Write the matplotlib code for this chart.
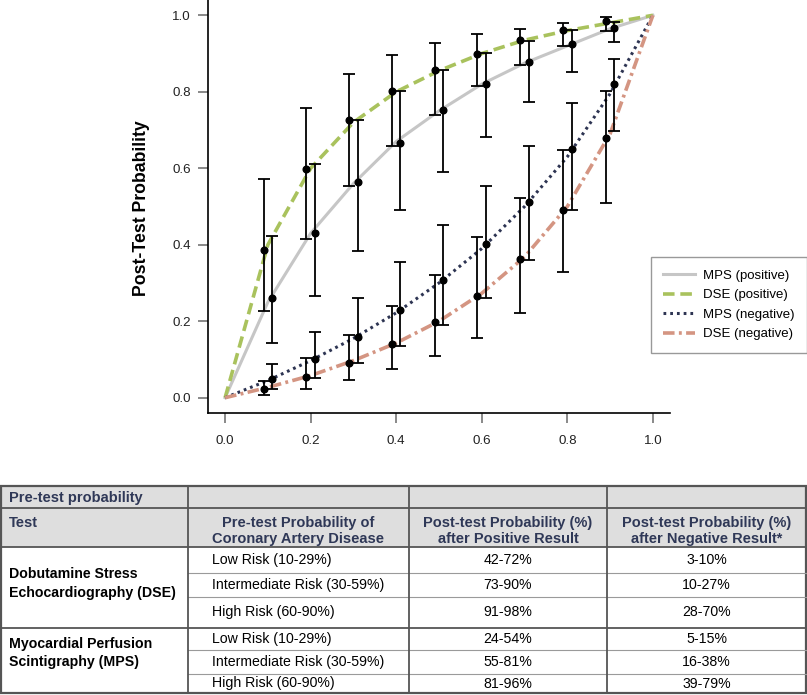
#!/usr/bin/env python3
"""post-test probability curves for DSE / MPS with a summary table below."""

import matplotlib
matplotlib.use("Agg")
import matplotlib.pyplot as plt
from matplotlib.patches import Rectangle

plt.rcParams["font.family"] = ["Liberation Sans", "DejaVu Sans"]

# curve vertices (pre-test -> post-test)
PRETEST_CURVE = [0.0, 0.1, 0.2, 0.3, 0.4, 0.5, 0.6, 0.7, 0.8, 0.9, 1.0]
MPS_POS_CURVE = [0.0, 0.25, 0.43, 0.56, 0.67, 0.75, 0.82, 0.875, 0.92, 0.965, 1.0]
DSE_POS_CURVE = [0.0, 0.40, 0.60, 0.72, 0.80, 0.855, 0.90, 0.935, 0.96, 0.98, 1.0]
MPS_NEG_CURVE = [0.0, 0.045, 0.097, 0.155, 0.222, 0.30, 0.39, 0.50, 0.63, 0.795, 1.0]
DSE_NEG_CURVE = [0.0, 0.027, 0.058, 0.097, 0.143, 0.20, 0.273, 0.368, 0.50, 0.69, 1.0]

# points with 95% intervals
DSE_X = [0.09, 0.19, 0.29, 0.39, 0.49, 0.59, 0.69, 0.79, 0.89]
MPS_X = [0.11, 0.21, 0.31, 0.41, 0.51, 0.61, 0.71, 0.81, 0.91]

DSE_POS = [0.387, 0.599, 0.725, 0.801, 0.858, 0.899, 0.936, 0.962, 0.984]
DSE_POS_LO = [0.226, 0.414, 0.553, 0.657, 0.740, 0.814, 0.869, 0.921, 0.960]
DSE_POS_HI = [0.572, 0.758, 0.847, 0.897, 0.928, 0.950, 0.963, 0.980, 0.995]

MPS_POS = [0.261, 0.430, 0.564, 0.666, 0.753, 0.821, 0.878, 0.925, 0.966]
MPS_POS_LO = [0.144, 0.267, 0.383, 0.490, 0.589, 0.682, 0.772, 0.851, 0.931]
MPS_POS_HI = [0.422, 0.612, 0.725, 0.803, 0.858, 0.902, 0.934, 0.962, 0.982]

MPS_NEG = [0.050, 0.101, 0.160, 0.229, 0.307, 0.402, 0.513, 0.650, 0.821]
MPS_NEG_LO = [0.024, 0.052, 0.091, 0.134, 0.190, 0.261, 0.359, 0.491, 0.697]
MPS_NEG_HI = [0.087, 0.172, 0.261, 0.355, 0.452, 0.553, 0.659, 0.771, 0.887]

DSE_NEG = [0.024, 0.053, 0.091, 0.140, 0.199, 0.267, 0.363, 0.492, 0.679]
DSE_NEG_LO = [0.008, 0.024, 0.045, 0.074, 0.108, 0.156, 0.221, 0.328, 0.510]
DSE_NEG_HI = [0.043, 0.105, 0.165, 0.240, 0.320, 0.420, 0.523, 0.648, 0.801]

TICKS = [0.0, 0.2, 0.4, 0.6, 0.8, 1.0]

# table text
HEAD1 = "Pre-test probability"
HEAD2 = ["Test", "Pre-test Probability of\nCoronary Artery Disease",
         "Post-test Probability (%)\nafter Positive Result",
         "Post-test Probability (%)\nafter Negative Result*"]
GROUPS = ["Dobutamine Stress\nEchocardiography (DSE)",
          "Myocardial Perfusion\nScintigraphy (MPS)"]
RISKS = ["Low Risk (10-29%)", "Intermediate Risk (30-59%)", "High Risk (60-90%)"]
POS_RANGES = [["42-72%", "73-90%", "91-98%"], ["24-54%", "55-81%", "81-96%"]]
NEG_RANGES = [["3-10%", "10-27%", "28-70%"], ["5-15%", "16-38%", "39-79%"]]

W, H = 807, 695
fig = plt.figure(figsize=(W / 100, H / 100), dpi=100)

# ---- plot ----
ax = fig.add_axes([208 / W, 1 - 413 / H, (670 - 208) / W, 413 / H])
styles = [
    ("MPS (positive)", PRETEST_CURVE, MPS_POS_CURVE, "#c6c6c6", "-", 2.2),
    ("DSE (positive)", PRETEST_CURVE, DSE_POS_CURVE, "#a9c25d", (0, (3.2, 1.6)), 2.6),
    ("MPS (negative)", PRETEST_CURVE, MPS_NEG_CURVE, "#2d3452", (0, (0.9, 1.3)), 2.2),
    ("DSE (negative)", PRETEST_CURVE, DSE_NEG_CURVE, "#d49582", (0, (3.2, 1.2, 0.8, 1.2)), 2.6),
]
for label, xs, ys, color, ls, lw in styles:
    ax.plot(xs, ys, color=color, linestyle=ls, linewidth=lw, label=label, zorder=2)

for xs, ys, lo, hi in [(DSE_X, DSE_POS, DSE_POS_LO, DSE_POS_HI),
                       (MPS_X, MPS_POS, MPS_POS_LO, MPS_POS_HI),
                       (MPS_X, MPS_NEG, MPS_NEG_LO, MPS_NEG_HI),
                       (DSE_X, DSE_NEG, DSE_NEG_LO, DSE_NEG_HI)]:
    err = [[y - l for y, l in zip(ys, lo)], [h - y for y, h in zip(ys, hi)]]
    ax.errorbar(xs, ys, yerr=err, fmt="o", color="black", markersize=4.8,
                elinewidth=1.3, capsize=4, capthick=1.3, zorder=3)

ax.set_xlim(-0.04, 1.04)
ax.set_ylim(-0.04, 1.04)
ax.set_xticks(TICKS)
ax.set_yticks(TICKS)
ax.set_xticklabels([f"{t:.1f}" for t in TICKS])
ax.set_yticklabels([f"{t:.1f}" for t in TICKS])
ax.tick_params(axis="both", color="#808080", width=1.3, length=7.5,
               labelsize=9.6, labelcolor="#222222")
ax.tick_params(axis="x", pad=8)
ax.tick_params(axis="y", pad=5)
ax.spines["top"].set_visible(False)
ax.spines["right"].set_visible(False)
for s in ("left", "bottom"):
    ax.spines[s].set_linewidth(1.2)
ax.set_ylabel("Post-Test Probability", fontsize=12.7, fontweight="bold")
ax.yaxis.set_label_coords(-0.126, 0.495)

leg = ax.legend(loc="upper right", bbox_to_anchor=(1.0, 1 - 257 / H),
                bbox_transform=fig.transFigure, borderaxespad=0, fontsize=9.5,
                frameon=True, fancybox=False, handlelength=2.4, handletextpad=0.6,
                labelspacing=0.55, borderpad=0.95)
leg.get_frame().set_edgecolor("#808080")
leg.get_frame().set_linewidth(1.0)

# ---- table ----
tab = fig.add_axes([0, 0, 1, 215 / H])
tab.set_xlim(0, W)
tab.set_ylim(H, H - 215)
tab.set_axis_off()

cols = [1, 188, 409, 607, 806]
top, r1, r2, g1, g2 = 486, 508, 547, 627.5, 693
dse_rows = [r2, 573, 597, g1]
mps_rows = [g1, 650, 674, g2]
group_text_y = [583.5, 653]
head_color = "#2f3857"
dark = "#555555"

tab.add_patch(Rectangle((cols[0], top), cols[-1] - cols[0], r2 - top,
                        facecolor="#dedede", edgecolor="none"))
# thin sub-row lines
for rows in (dse_rows, mps_rows):
    for y in rows[1:-1]:
        tab.plot([cols[1], cols[-1]], [y, y], color="#9a9a9a", lw=0.8)
# heavy lines
for y in (r1, r2, g1):
    tab.plot([cols[0], cols[-1]], [y, y], color=dark, lw=1.3)
for x in cols[1:-1]:
    tab.plot([x, x], [top, g2], color=dark, lw=1.3)
tab.add_patch(Rectangle((cols[0], top), cols[-1] - cols[0], g2 - top,
                        facecolor="none", edgecolor=dark, lw=1.6))

tab.text(9, (top + r1) / 2 + 1, HEAD1, fontsize=10.5, fontweight="bold",
         color=head_color, ha="left", va="center")
tab.text(9, 523, HEAD2[0], fontsize=10.5, fontweight="bold",
         color=head_color, ha="left", va="center")
for i, txt in enumerate(HEAD2[1:], start=1):
    tab.text((cols[i] + cols[i + 1]) / 2, 531, txt, fontsize=10.5,
             fontweight="bold", color=head_color, ha="center", va="center",
             linespacing=1.22)

for gi, rows in enumerate((dse_rows, mps_rows)):
    tab.text(9, group_text_y[gi], GROUPS[gi], fontsize=10.2,
             fontweight="bold", color="black", ha="left", va="center",
             linespacing=1.4)
    for ri in range(3):
        yc = (rows[ri] + rows[ri + 1]) / 2
        tab.text(cols[1] + 24, yc, RISKS[ri], fontsize=10.2, ha="left", va="center")
        tab.text((cols[2] + cols[3]) / 2, yc, POS_RANGES[gi][ri], fontsize=10.2,
                 ha="center", va="center")
        tab.text((cols[3] + cols[4]) / 2, yc, NEG_RANGES[gi][ri], fontsize=10.2,
                 ha="center", va="center")

fig.savefig("out.png", dpi=100)
